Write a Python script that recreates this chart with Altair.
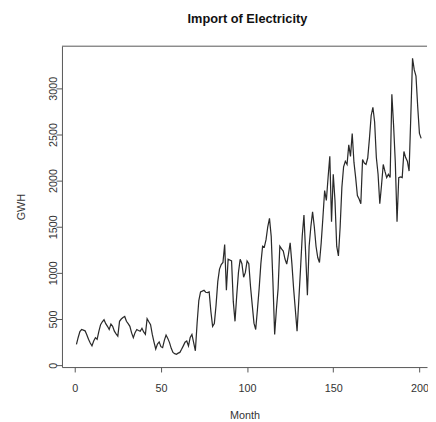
import altair as alt
import pandas as pd

months = list(range(1, 202))
gwh = [
    226, 300, 365, 386, 380, 372, 330, 280, 240, 209,
    262, 298, 280, 365, 439, 470, 492, 450, 421, 386,
    446, 420, 368, 340, 315, 475, 500, 517, 528, 475,
    450, 421, 350, 298, 352, 386, 375, 368, 400, 360,
    333, 503, 470, 439, 333, 250, 175, 228, 252, 200,
    190, 268, 326, 290, 244, 182, 138, 124, 118, 130,
    138, 172, 209, 248, 262, 209, 300, 333, 244, 156,
    455, 700, 794, 802, 811, 790, 786, 794, 581, 421,
    452, 651, 905, 1041, 1090, 1113, 1307, 811, 1148, 1140,
    1130, 688, 475, 758, 1005, 1148, 1100, 953, 1005, 1130,
    1100, 850, 651, 455, 386, 600, 829, 1100, 1289, 1280,
    1360, 1500, 1591, 1396, 900, 333, 600, 829, 1289, 1260,
    1236, 1150, 1095, 1200, 1325, 1100, 829, 600, 369, 700,
    1041, 1400, 1626, 1200, 758, 1289, 1500, 1661, 1500, 1289,
    1166, 1113, 1325, 1600, 1892, 1785, 2033, 2263, 1555, 2069,
    1785, 1289, 1183, 1500, 1927, 2150, 2210, 2175, 2387, 2263,
    2511, 2200, 2033, 1838, 1800, 1750, 2228, 2190, 2175, 2245,
    2458, 2706, 2795, 2635, 2250, 2069, 1750, 1950, 2175, 2100,
    2033, 2069, 2033, 2936, 2600, 2200, 1555, 2033, 2040, 2033,
    2316, 2250, 2210, 2104, 2700, 3326, 3200, 3132, 2800, 2511,
    2458,
]
x_ticks = [0, 50, 100, 150, 200]
y_ticks = [0, 500, 1000, 1500, 2000, 2500, 3000]
title_text = "Import of Electricity"

df = pd.DataFrame({"Month": months, "GWH": gwh})

W, H = 372, 327
FONT = "Liberation Sans"
AX = "#555555"
TX = "#333333"

line = alt.Chart(df).mark_line(color="#2a2a2a", strokeWidth=1.25, clip=True).encode(
    x=alt.X(
        "Month:Q",
        scale=alt.Scale(domain=[-7.4, 204.4], nice=False, zero=False),
        axis=alt.Axis(
            values=x_ticks, format="d", title="Month", grid=False, tickSize=5,
            domainColor=AX, tickColor=AX, labelColor=TX, titleColor=TX,
            labelFont=FONT, labelFontSize=11, labelBaseline="middle", labelPadding=17,
            labelFlush=False,
            titleFont=FONT, titleFontSize=11, titleFontWeight="normal",
            titleBaseline="middle", titleY=49,
        ),
    ),
    y=alt.Y(
        "GWH:Q",
        scale=alt.Scale(domain=[-21, 3457], nice=False, zero=False),
        axis=alt.Axis(
            values=y_ticks, format="d", title="GWH", grid=False, tickSize=6,
            domainColor=AX, tickColor=AX, labelColor=TX, titleColor=TX,
            labelFont=FONT, labelFontSize=11, labelAngle=270,
            labelAlign="center", labelBaseline="middle", labelPadding=3,
            labelFlush=False,
            titleFont=FONT, titleFontSize=11, titleFontWeight="normal",
            titleAngle=270, titleAlign="center", titleBaseline="middle",
            titleX=-41, titleY=H / 2,
        ),
    ),
)

frame_top = alt.Chart(alt.Data(values=[{}])).mark_rule(color=AX, strokeWidth=1).encode(
    x=alt.value(0), x2=alt.value(W), y=alt.value(0)
)

title = alt.Chart(alt.Data(values=[{"t": title_text}])).mark_text(
    font=FONT, fontSize=13, fontWeight="bold", color="#111111",
    align="center", baseline="middle",
).encode(text="t:N", x=alt.value(189), y=alt.value(-28))

chart = (
    alt.layer(line, frame_top, title)
    .properties(
        width=W,
        height=H,
        padding={"left": 55, "top": 35, "right": 1, "bottom": 50},
        autosize=alt.AutoSizeParams(type="none"),
    )
    .configure_view(stroke=None)
)

chart.save("out.html", embed_options={"renderer": "svg", "actions": False})
